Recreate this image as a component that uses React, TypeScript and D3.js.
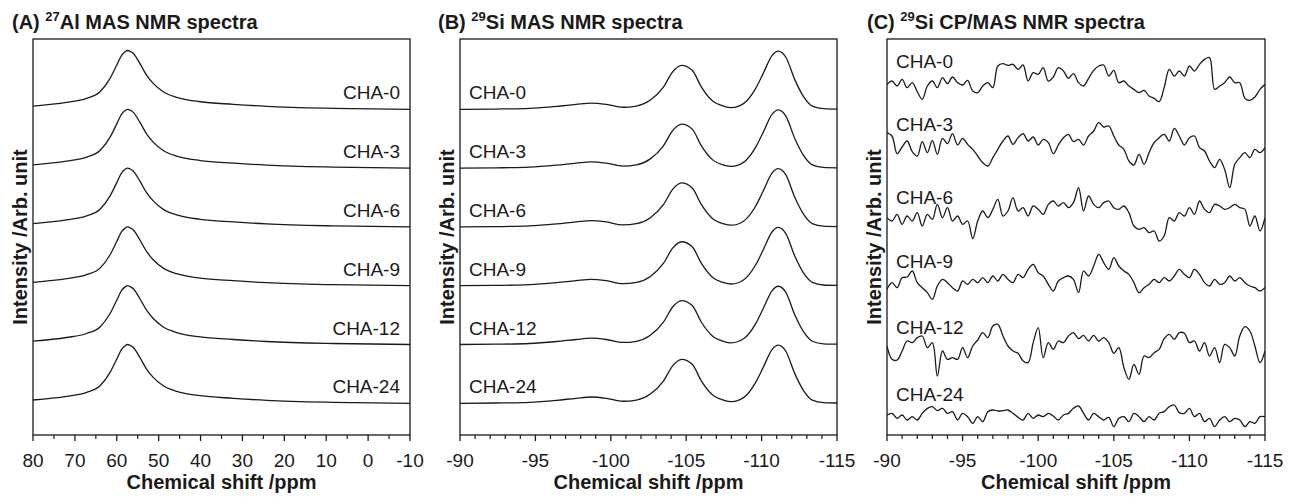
import React from 'react';
import * as d3 from 'd3';

const W = 1289;
const H = 497;

const samples = ['CHA-0', 'CHA-3', 'CHA-6', 'CHA-9', 'CHA-12', 'CHA-24'];

// ---------- (A) 27Al MAS NMR ----------
const alPpm = [80, 72, 67.2, 64, 61.6, 60, 58.8, 58, 57.4, 56.8, 56.1, 54.5, 52.9, 51.3, 48.9, 45.7, 40.1, 32.2, 24.2, 8.3, -10];
const alCHA0 = [5.6, 11.9, 18.7, 29.9, 52.7, 75.3, 92.3, 98, 100, 98.5, 95.2, 78.2, 58.3, 44.2, 29.9, 20.4, 12.9, 8.5, 5.1, 1.7, 0];
const alCHA3 = [5.6, 11.9, 18.7, 29.9, 52.7, 75.3, 92.3, 98, 100, 98.5, 95.2, 78.2, 58.3, 44.2, 29.9, 20.4, 12.9, 8.5, 5.1, 1.7, 0];
const alCHA6 = [5.6, 11.9, 18.7, 29.9, 52.7, 75.3, 92.3, 98, 100, 98.5, 95.2, 78.2, 58.3, 44.2, 29.9, 20.4, 12.9, 8.5, 5.1, 1.7, 0];
const alCHA9 = [5.6, 11.9, 18.7, 29.9, 52.7, 75.3, 92.3, 98, 100, 98.5, 95.2, 78.2, 58.3, 44.2, 29.9, 20.4, 12.9, 8.5, 5.1, 1.7, 0];
const alCHA12 = [5.6, 11.9, 18.7, 29.9, 52.7, 75.3, 92.3, 98, 100, 98.5, 95.2, 78.2, 58.3, 44.2, 29.9, 20.4, 12.9, 8.5, 5.1, 1.7, 0];
const alCHA24 = [5.6, 11.9, 18.7, 29.9, 52.7, 75.3, 92.3, 98, 100, 98.5, 95.2, 78.2, 58.3, 44.2, 29.9, 20.4, 12.9, 8.5, 5.1, 1.7, 0];
const alTicks = [80, 70, 60, 50, 40, 30, 20, 10, 0, -10];

// ---------- (B) 29Si MAS NMR ----------
const siPpm = [-90, -92.4, -94.6, -96.4, -97.7, -98.7, -99.7, -100.8, -101.7, -102.6, -103.5, -104.1, -104.7, -105.4, -106, -106.7, -107.5, -108, -108.8, -109.6, -110.1, -110.7, -111.1, -111.6, -112.2, -112.8, -113.4, -114.1, -115];
const siCHA0 = [0, 0.5, 1.7, 5.1, 8.5, 10.7, 8.5, 3.5, 5.5, 15.3, 38.3, 63.8, 74.8, 66.3, 38.3, 15.3, 5.1, 2.9, 9.7, 35.2, 60.7, 91.8, 99.1, 89, 50.5, 20.9, 5.1, 1.2, 0.5];
const siCHA3 = [0, 0.5, 1.7, 5.1, 8.5, 10.7, 8.5, 3.5, 5.5, 15.3, 38.3, 63.8, 74.8, 66.3, 38.3, 15.3, 5.1, 2.9, 9.7, 35.2, 60.7, 91.8, 99.1, 89, 50.5, 20.9, 5.1, 1.2, 0.5];
const siCHA6 = [0, 0.5, 1.7, 5.1, 8.5, 10.7, 8.5, 3.5, 5.5, 15.3, 38.3, 63.8, 74.8, 66.3, 38.3, 15.3, 5.1, 2.9, 9.7, 35.2, 60.7, 91.8, 99.1, 89, 50.5, 20.9, 5.1, 1.2, 0.5];
const siCHA9 = [0, 0.5, 1.7, 5.1, 8.5, 10.7, 8.5, 3.5, 5.5, 15.3, 38.3, 63.8, 74.8, 66.3, 38.3, 15.3, 5.1, 2.9, 9.7, 35.2, 60.7, 91.8, 99.1, 89, 50.5, 20.9, 5.1, 1.2, 0.5];
const siCHA12 = [0, 0.5, 1.7, 5.1, 8.5, 10.7, 8.5, 3.5, 5.5, 15.3, 38.3, 63.8, 74.8, 66.3, 38.3, 15.3, 5.1, 2.9, 9.7, 35.2, 60.7, 91.8, 99.1, 89, 50.5, 20.9, 5.1, 1.2, 0.5];
const siCHA24 = [0, 0.5, 1.7, 5.1, 8.5, 10.7, 8.5, 3.5, 5.5, 15.3, 38.3, 63.8, 74.8, 66.3, 38.3, 15.3, 5.1, 2.9, 9.7, 35.2, 60.7, 91.8, 99.1, 89, 50.5, 20.9, 5.1, 1.2, 0.5];
const siTicks = [-90, -95, -100, -105, -110, -115];

// ---------- (C) 29Si CP/MAS NMR ----------
const cpPpm = [-90, -90.33, -90.67, -91, -91.33, -91.67, -92, -92.33, -92.67, -93, -93.33, -93.67, -94, -94.33, -94.67, -95, -95.33, -95.67, -96, -96.33, -96.67, -97, -97.33, -97.67, -98, -98.33, -98.67, -99, -99.33, -99.67, -100, -100.33, -100.67, -101, -101.33, -101.67, -102, -102.33, -102.67, -103, -103.33, -103.67, -104, -104.33, -104.67, -105, -105.33, -105.67, -106, -106.33, -106.67, -107, -107.33, -107.67, -108, -108.33, -108.67, -109, -109.33, -109.67, -110, -110.33, -110.67, -111, -111.33, -111.67, -112, -112.33, -112.67, -113, -113.33, -113.67, -114, -114.33, -114.67, -115];
const cpCHA0 = [-5, 5, -10, 10, -15, 0, -27, -50, -10, 5, -15, 15, -3, 17, 0, -7, 7, -25, -30, -10, 0, -15, 50, 57, 52, 55, 40, 53, 5, 30, 25, 45, 5, 17, 45, 35, 13, 27, 0, -10, 13, 37, 50, 53, 20, 37, 0, 5, -10, -20, -30, -23, -40, -47, -57, -15, 40, 20, 35, 20, 50, 35, 55, 70, 75, -20, -10, 0, 17, 0, 0, -47, -53, -43, -20, -5];
const cpCHA3 = [40, 30, -23, -3, 15, -17, -30, 13, -20, 17, -25, 23, 7, 37, 3, 23, 5, -10, -30, -50, -60, -35, -10, 15, 30, 5, 25, 37, 15, 27, 3, 20, 10, -23, 3, 25, 35, 13, 20, 3, 30, 45, 70, 57, 60, 30, 3, -10, -45, -57, -25, -55, -20, 10, 25, 35, 15, 53, 30, 3, 25, 30, -5, -15, -45, -65, -40, -70, -125, -55, -35, -20, -35, -10, -20, -5];
const cpCHA6 = [5, -5, 15, -15, 10, -5, 20, -20, 15, 0, 45, 5, 35, -5, 10, -15, -5, -58, -5, 25, 5, 30, 60, 10, 25, 65, 25, 35, 10, 40, 30, 15, 45, 55, 40, 50, 35, 50, 95, 25, 70, 45, 35, 50, 55, 35, 30, 40, 20, -20, -30, -25, -40, -35, -65, -50, 5, -5, 20, 10, 35, 15, 55, 30, 20, 45, 40, 30, 35, 45, 35, 30, -20, 10, -35, 5];
const cpCHA9 = [-20, 0, -15, 15, 17, 35, 0, -15, -30, -50, -10, 10, 0, -15, -25, 5, -5, 10, 0, 15, 0, 20, 5, 25, 10, 0, 25, 15, 40, 55, 30, 20, -5, -25, 5, 15, 20, 10, -30, 35, 20, 50, 85, 60, 40, 75, 50, 35, 25, 0, -30, -15, -5, 10, 0, 15, 5, 20, 40, 25, 15, 40, 25, 0, -10, 10, -5, 0, 20, 5, 15, 0, -10, -15, -25, -15];
const cpCHA12 = [10, -30, -32, -5, 25, 20, 35, 40, 5, 20, -80, -5, -30, -25, -30, 5, -25, 10, 28, 50, 35, 70, 75, 40, 10, -5, -12, -35, -40, 20, 65, -25, 20, 0, 25, 20, 40, 50, 32, 42, 25, 42, 25, 35, 20, -12, 5, -55, -90, -45, -75, -20, -25, -10, 0, 32, 45, 30, 50, 48, 20, 25, -5, 20, -20, 5, -40, 15, 5, -20, 40, 68, 55, 10, -40, -5];
const cpCHA24 = [3, 8, -7, 3, -12, -2, -12, 8, 23, 28, 16, 23, 8, 13, -12, 8, -2, -22, -2, -17, 13, 18, 15, 16, 18, 8, -4, -12, 8, -7, 3, -2, 8, 0, -12, 3, 8, 23, 30, 8, -12, 8, -2, -12, -4, -32, -7, -2, -17, 8, -2, -17, -2, -12, 8, 13, 28, 33, 10, 8, 23, -2, 8, -17, -7, -32, -12, -2, -17, -7, -12, -32, -17, -22, -2, -2];

// stacking offsets (arbitrary units)
const stackOffsets = [500, 400, 300, 200, 100, 0];
const cpOffsets = [1000, 810, 590, 400, 200, 0];

const FONT = 'Arial, "Liberation Sans", Helvetica, sans-serif';
const INK = '#1a1a1a';

const TOP = 39;
const BOTTOM = 435;

type PanelProps = {
  letter: string;
  iso: string;
  rest: string;
  left: number;
  right: number;
  titleX: number;
  xDomain: [number, number];
  majors: number[];
  minorCount: number;
  ppm: number[];
  series: number[][];
  offsets: number[];
  yDomain: [number, number];
  labelAlign: 'start' | 'end';
  labelDy: number;
  curve: any;
};

function Panel(p: PanelProps) {
  const x = d3.scaleLinear().domain(p.xDomain).range([p.left, p.right]);
  const y = d3.scaleLinear().domain(p.yDomain).range([BOTTOM, TOP]);
  const minors = x.ticks(p.minorCount).filter((t) => !p.majors.includes(t));
  const cx = (p.left + p.right) / 2;
  const cy = (TOP + BOTTOM) / 2;
  return (
    <g>
      <text x={p.titleX} y={29} fontFamily={FONT} fontWeight="bold" fontSize={20} fill={INK}>
        <tspan>{p.letter} </tspan>
        <tspan fontSize={13} dy={-8}>{p.iso}</tspan>
        <tspan dy={8}>{p.rest}</tspan>
      </text>
      <defs>
        <clipPath id={'clip' + p.letter.replace(/[()]/g, '')}>
          <rect x={p.left} y={TOP} width={p.right - p.left} height={BOTTOM - TOP} />
        </clipPath>
      </defs>
      <g clipPath={`url(#clip${p.letter.replace(/[()]/g, '')})`}>
        {p.series.map((vals, i) => {
          const line = d3
            .line<number>()
            .x((_, j) => x(p.ppm[j]))
            .y((v) => y(v + p.offsets[i]))
            .curve(p.curve);
          return <path key={i} d={line(vals) || ''} fill="none" stroke={INK} strokeWidth={1.3} />;
        })}
      </g>
      {p.series.map((vals, i) => {
        const base = p.offsets[i];
        const lx = p.labelAlign === 'end' ? p.right - 10 : p.left + 9;
        return (
          <text
            key={'l' + i}
            x={lx}
            y={y(base + p.labelDy)}
            textAnchor={p.labelAlign}
            fontFamily={FONT}
            fontSize={19}
            fill={INK}
          >
            {samples[i]}
          </text>
        );
      })}
      <rect x={p.left} y={TOP} width={p.right - p.left} height={BOTTOM - TOP} fill="none" stroke={INK} strokeWidth={1.3} />
      {p.majors.map((t) => (
        <g key={'M' + t}>
          <line x1={x(t)} x2={x(t)} y1={BOTTOM} y2={BOTTOM + 6} stroke={INK} strokeWidth={1.3} />
          <text x={x(t)} y={467} textAnchor="middle" fontFamily={FONT} fontSize={19} fill={INK}>
            {t}
          </text>
        </g>
      ))}
      {minors.map((t) => (
        <line key={'m' + t} x1={x(t)} x2={x(t)} y1={BOTTOM} y2={BOTTOM + 4} stroke={INK} strokeWidth={1.2} />
      ))}
      <text x={cx} y={489} textAnchor="middle" fontFamily={FONT} fontWeight="bold" fontSize={20} fill={INK}>
        Chemical shift /ppm
      </text>
      <text
        transform={`translate(${p.left - 13},${cy}) rotate(-90)`}
        textAnchor="middle"
        dominantBaseline="central"
        fontFamily={FONT}
        fontWeight="bold"
        fontSize={20}
        fill={INK}
      >
        Intensity /Arb. unit
      </text>
    </g>
  );
}

export default function App() {
  return (
    <svg
      width={W}
      height={H}
      viewBox={`0 0 ${W} ${H}`}
      style={{ position: 'absolute', left: 0, top: 0, background: '#fff', display: 'block' }}
    >
      <rect x={0} y={0} width={W} height={H} fill="#fff" />
      <Panel
        letter="(A)"
        iso="27"
        rest="Al MAS NMR spectra"
        left={33}
        right={410}
        titleX={12}
        xDomain={[80, -10]}
        majors={alTicks}
        minorCount={18}
        ppm={alPpm}
        series={[alCHA0, alCHA3, alCHA6, alCHA9, alCHA12, alCHA24]}
        offsets={stackOffsets}
        yDomain={[-53.9, 619.6]}
        labelAlign="end"
        labelDy={17}
        curve={d3.curveMonotoneX}
      />
      <Panel
        letter="(B)"
        iso="29"
        rest="Si MAS NMR spectra"
        left={460}
        right={837}
        titleX={438}
        xDomain={[-90, -115]}
        majors={siTicks}
        minorCount={25}
        ppm={siPpm}
        series={[siCHA0, siCHA3, siCHA6, siCHA9, siCHA12, siCHA24]}
        offsets={stackOffsets}
        yDomain={[-53.9, 619.6]}
        labelAlign="start"
        labelDy={17}
        curve={d3.curveMonotoneX}
      />
      <Panel
        letter="(C)"
        iso="29"
        rest="Si CP/MAS NMR spectra"
        left={887}
        right={1265}
        titleX={867}
        xDomain={[-90, -115]}
        majors={siTicks}
        minorCount={25}
        ppm={cpPpm}
        series={[cpCHA0, cpCHA3, cpCHA6, cpCHA9, cpCHA12, cpCHA24]}
        offsets={cpOffsets}
        yDomain={[-57, 1131]}
        labelAlign="start"
        labelDy={45}
        curve={d3.curveCatmullRom.alpha(0.5)}
      />
    </svg>
  );
}
